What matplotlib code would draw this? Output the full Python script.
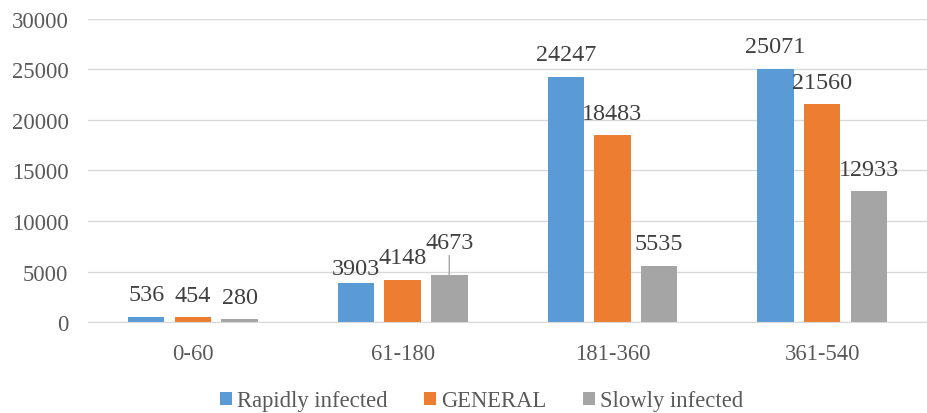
import matplotlib
matplotlib.use("Agg")
import matplotlib.pyplot as plt
from matplotlib.patches import Patch
import numpy as np

# data
categories = ["0-60", "61-180", "181-360", "361-540"]
series_names = ["Rapidly infected", "GENERAL", "Slowly infected"]
rapidly = [536, 3903, 24247, 25071]
general = [454, 4148, 18483, 21560]
slowly = [280, 4673, 5535, 12933]
yticks = [0, 5000, 10000, 15000, 20000, 25000, 30000]

colors = ["#5B9BD5", "#ED7D31", "#A5A5A5"]
plt.rcParams["font.family"] = ["Liberation Serif", "DejaVu Serif"]

fig = plt.figure(figsize=(9.28, 4.14), dpi=100)
ax = fig.add_axes([0.0948, 0.2198, 0.9042, 0.7319])

x = np.arange(len(categories))
step = 0.2224
width = 0.174

# label offsets in points above bar top (Excel nudged a couple of them)
default_off = 12.0
special_off = {(0, 1): 6.5, (1, 1): 12.0, (2, 1): 19.5}

for si, vals in enumerate([rapidly, general, slowly]):
    xs = x + (si - 1) * step
    ax.bar(xs, vals, width=width, color=colors[si], zorder=3)
    for ci, (xx, v) in enumerate(zip(xs, vals)):
        off = special_off.get((si, ci), default_off)
        if (si, ci) == (2, 1):
            # leader line, like Excel draws for a moved label
            ax.annotate(str(v), xy=(xx, v), xytext=(0, off), textcoords="offset points",
                        ha="center", va="baseline", fontsize=17.4, color="#404040",
                        arrowprops=dict(arrowstyle="-", color="#A6A6A6", lw=1,
                                        shrinkA=0, shrinkB=0))
        else:
            ax.annotate(str(v), xy=(xx, v), xytext=(0, off), textcoords="offset points",
                        ha="center", va="baseline", fontsize=17.4, color="#404040")

ax.set_xlim(-0.5, len(categories) - 0.5)
ax.set_ylim(0, 30000)
ax.set_yticks(yticks)
ax.set_yticklabels([str(t) for t in yticks])
ax.set_xticks(x)
ax.set_xticklabels(categories)
ax.tick_params(axis="both", length=0, labelsize=16.3, colors="#595959")
ax.tick_params(axis="y", pad=14)
ax.tick_params(axis="x", pad=15)
ax.grid(axis="y", color="#D9D9D9", linewidth=1, zorder=0)
for name, sp in ax.spines.items():
    sp.set_visible(False)
ax.spines["bottom"].set_visible(True)
ax.spines["bottom"].set_color("#D9D9D9")
ax.spines["bottom"].set_zorder(4)

handles = [Patch(facecolor=c, edgecolor="none") for c in colors]
fig.legend(handles, series_names, loc="center", bbox_to_anchor=(0.519, 0.029),
           ncol=3, frameon=False, fontsize=16.3, handlelength=0.55, handleheight=0.55,
           handletextpad=0.22, columnspacing=1.6, labelcolor="#595959",
           borderaxespad=0, borderpad=0.0)

fig.savefig("out.png", dpi=100)
